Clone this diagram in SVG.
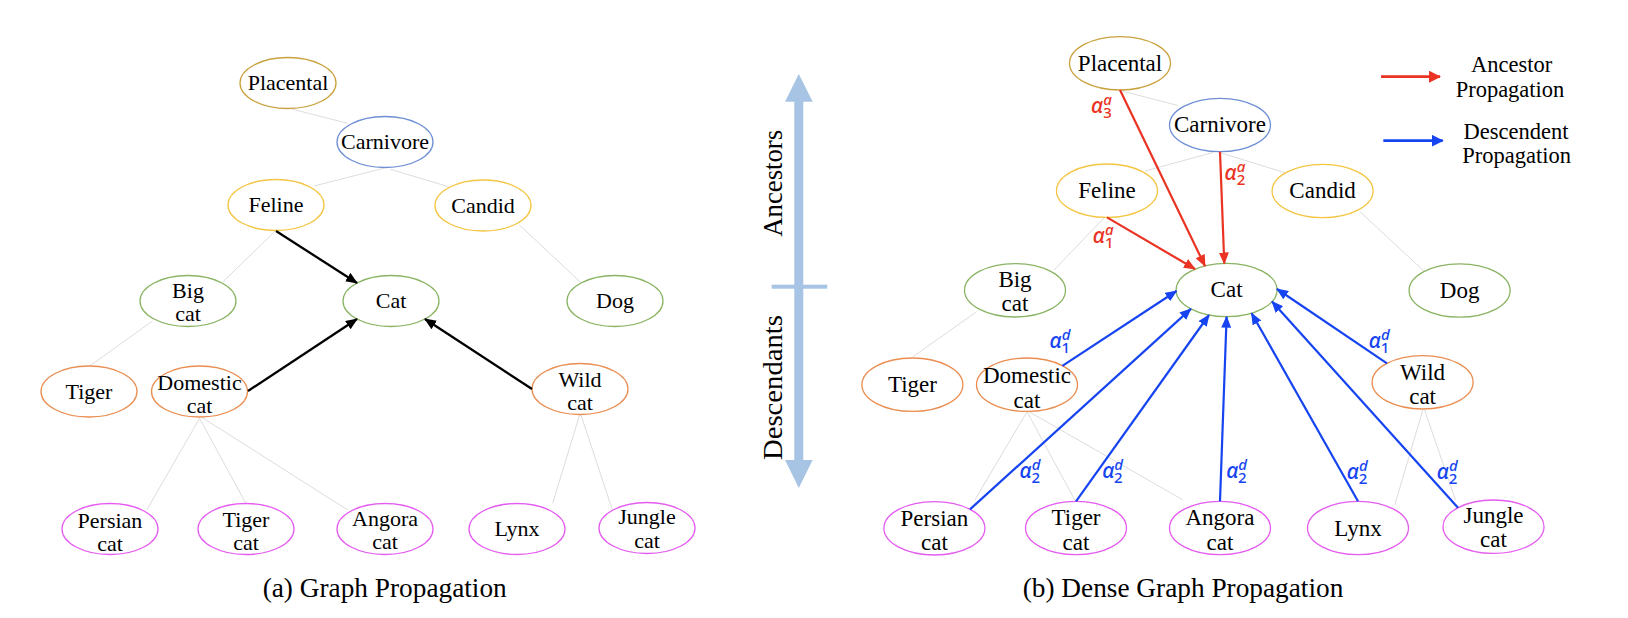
<svg xmlns="http://www.w3.org/2000/svg" width="1628" height="618" viewBox="0 0 1628 618">
<style>
.bg{fill:#fff}
.n{fill:#fff;stroke-width:1.3}
.pl{stroke:#c9a23e}.cv{stroke:#6f8fd4}.fe{stroke:#f4c542}.gr{stroke:#8ab463}.or{stroke:#ea8d50}.mg{stroke:#e45cf0}
.t{font-family:"Liberation Serif",serif;font-size:22px;text-anchor:middle;fill:#000}
.tb{font-family:"Liberation Serif",serif;font-size:23px;text-anchor:middle;fill:#000}
.cap{font-family:"Liberation Serif",serif;font-size:27.3px;text-anchor:middle;fill:#000}
.leg{font-family:"Liberation Serif",serif;font-size:22.5px;text-anchor:middle;fill:#000}
.side{font-family:"Liberation Serif",serif;font-size:27px;text-anchor:middle;fill:#000}
.g{stroke:#d8d8d8;stroke-width:0.9;fill:none}
.ak{stroke:#000;stroke-width:2.3;fill:none;marker-end:url(#mk)}
.ar{stroke:#ea3323;stroke-width:2.2;fill:none;marker-end:url(#mr)}
.ab{stroke:#1644f0;stroke-width:2.2;fill:none;marker-end:url(#mb)}
.al{font-family:"Noto Sans",sans-serif;font-size:21px;font-style:italic;font-weight:500}
.sp{font-size:15px;font-style:italic}
.sb{font-size:15px;font-style:normal}
.red{fill:#ea3323}.blue{fill:#1644f0}
</style>
<defs>
<marker id="mk" markerUnits="userSpaceOnUse" markerWidth="14" markerHeight="12" refX="11" refY="5" orient="auto"><path d="M0,0 L12,5 L0,10 z" fill="#000"/></marker>
<marker id="mr" markerUnits="userSpaceOnUse" markerWidth="14" markerHeight="12" refX="11" refY="5" orient="auto"><path d="M0,0 L12,5 L0,10 z" fill="#ea3323"/></marker>
<marker id="mb" markerUnits="userSpaceOnUse" markerWidth="14" markerHeight="12" refX="11" refY="5" orient="auto"><path d="M0,0 L12,5 L0,10 z" fill="#1644f0"/></marker>
<marker id="mlr" markerUnits="userSpaceOnUse" markerWidth="14" markerHeight="14" refX="11" refY="6" orient="auto"><path d="M0,0 L12,6 L0,12 z" fill="#ea3323"/></marker>
<marker id="mlb" markerUnits="userSpaceOnUse" markerWidth="14" markerHeight="14" refX="11" refY="6" orient="auto"><path d="M0,0 L12,6 L0,12 z" fill="#1644f0"/></marker>
</defs>
<rect class="bg" x="0" y="0" width="1628" height="618"/>

<g id="connectors">
  <path class="g" d="M291.6,109 L347.7,123.3"/>
  <path class="g" d="M383.6,168.3 L314,186"/>
  <path class="g" d="M390.3,169.3 L448.6,186.7"/>
  <path class="g" d="M274.6,231.7 L223,281.7"/>
  <path class="g" d="M519.5,225 L581,282.7"/>
  <path class="g" d="M152.5,321 L89.7,366"/>
  <path class="g" d="M199.6,418.3 L146.7,510"/>
  <path class="g" d="M199.6,418.3 L245.8,503.3"/>
  <path class="g" d="M201.9,417.3 L347.7,510"/>
  <path class="g" d="M579.6,415 L552.7,503.3"/>
  <path class="g" d="M581,415 L612.4,510"/>
  <path class="g" d="M1122,91 L1178,105.5"/>
  <path class="g" d="M1213,152.5 L1145,171"/>
  <path class="g" d="M1218,152 L1286,173"/>
  <path class="g" d="M1104,218 L1054,270"/>
  <path class="g" d="M1360,211.7 L1424.6,271.7"/>
  <path class="g" d="M976.6,311.7 L913,356.7"/>
  <path class="g" d="M1027,411.7 L974.8,500"/>
  <path class="g" d="M1027,411.7 L1074.8,500"/>
  <path class="g" d="M1029,411.7 L1183,500"/>
  <path class="g" d="M1422.8,410 L1394.8,505"/>
  <path class="g" d="M1424.6,410 L1455.5,500"/>
</g>

<g id="a-placental"><ellipse class="n pl" cx="288" cy="83" rx="48" ry="25.5"/><text class="t" x="288" y="90">Placental</text></g>
<g id="a-carnivore"><ellipse class="n cv" cx="385" cy="142" rx="48" ry="25.5"/><text class="t" x="385" y="149">Carnivore</text></g>
<g id="a-feline"><ellipse class="n fe" cx="276" cy="205" rx="48" ry="25.5"/><text class="t" x="276" y="212">Feline</text></g>
<g id="a-candid"><ellipse class="n fe" cx="483" cy="205.5" rx="48" ry="25.5"/><text class="t" x="483" y="212.5">Candid</text></g>
<g id="a-bigcat"><ellipse class="n gr" cx="188" cy="301" rx="48" ry="25.5"/><text class="t" x="188" y="298">Big</text><text class="t" x="188" y="321">cat</text></g>
<g id="a-cat"><ellipse class="n gr" cx="391" cy="301" rx="48" ry="25.5"/><text class="t" x="391" y="307.5">Cat</text></g>
<g id="a-dog"><ellipse class="n gr" cx="615" cy="301" rx="48" ry="25.5"/><text class="t" x="615" y="307.5">Dog</text></g>
<g id="a-tiger"><ellipse class="n or" cx="89" cy="391.5" rx="48" ry="25.5"/><text class="t" x="89" y="398.5">Tiger</text></g>
<g id="a-domestic"><ellipse class="n or" cx="199.5" cy="391.5" rx="48" ry="25.5"/><text class="t" x="199.5" y="390">Domestic</text><text class="t" x="199.5" y="413">cat</text></g>
<g id="a-wild"><ellipse class="n or" cx="580" cy="389" rx="48" ry="25.5"/><text class="t" x="580" y="387">Wild</text><text class="t" x="580" y="410">cat</text></g>
<g id="a-persian"><ellipse class="n mg" cx="110" cy="529" rx="48" ry="25.5"/><text class="t" x="110" y="527.5">Persian</text><text class="t" x="110" y="550.5">cat</text></g>
<g id="a-tigercat"><ellipse class="n mg" cx="246" cy="529" rx="48" ry="25.5"/><text class="t" x="246" y="527">Tiger</text><text class="t" x="246" y="550">cat</text></g>
<g id="a-angora"><ellipse class="n mg" cx="385" cy="529" rx="48" ry="25.5"/><text class="t" x="385" y="526">Angora</text><text class="t" x="385" y="549">cat</text></g>
<g id="a-lynx"><ellipse class="n mg" cx="517" cy="529" rx="48" ry="25.5"/><text class="t" x="517" y="536">Lynx</text></g>
<g id="a-jungle"><ellipse class="n mg" cx="647" cy="528" rx="48" ry="25.5"/><text class="t" x="647" y="524">Jungle</text><text class="t" x="647" y="547.5">cat</text></g>

<g id="b-placental"><ellipse class="n pl" cx="1120" cy="63.3" rx="50.5" ry="26.7"/><text class="tb" x="1120" y="70.5">Placental</text></g>
<g id="b-carnivore"><ellipse class="n cv" cx="1220" cy="125" rx="50.5" ry="26.7"/><text class="tb" x="1220" y="132.2">Carnivore</text></g>
<g id="b-feline"><ellipse class="n fe" cx="1107" cy="190.7" rx="50.5" ry="26.7"/><text class="tb" x="1107" y="198">Feline</text></g>
<g id="b-candid"><ellipse class="n fe" cx="1322.6" cy="191" rx="50.5" ry="26.7"/><text class="tb" x="1322.6" y="198.3">Candid</text></g>
<g id="b-bigcat"><ellipse class="n gr" cx="1015" cy="290.3" rx="50.5" ry="26.7"/><text class="tb" x="1015" y="287">Big</text><text class="tb" x="1015" y="311">cat</text></g>
<g id="b-cat"><ellipse class="n gr" cx="1226.6" cy="290" rx="50.5" ry="26.7"/><text class="tb" x="1226.6" y="297">Cat</text></g>
<g id="b-dog"><ellipse class="n gr" cx="1459.6" cy="290.5" rx="50.5" ry="26.7"/><text class="tb" x="1459.6" y="297.5">Dog</text></g>
<g id="b-tiger"><ellipse class="n or" cx="912.4" cy="384.7" rx="50.5" ry="26.7"/><text class="tb" x="912.4" y="392">Tiger</text></g>
<g id="b-domestic"><ellipse class="n or" cx="1027" cy="384.7" rx="50.5" ry="26.7"/><text class="tb" x="1027" y="383">Domestic</text><text class="tb" x="1027" y="407.5">cat</text></g>
<g id="b-wild"><ellipse class="n or" cx="1422.6" cy="382.3" rx="50.5" ry="26.7"/><text class="tb" x="1422.6" y="379.5">Wild</text><text class="tb" x="1422.6" y="404">cat</text></g>
<g id="b-persian"><ellipse class="n mg" cx="934.4" cy="528.3" rx="50.5" ry="26.7"/><text class="tb" x="934.4" y="525.5">Persian</text><text class="tb" x="934.4" y="550">cat</text></g>
<g id="b-tigercat"><ellipse class="n mg" cx="1076" cy="528" rx="50.5" ry="26.7"/><text class="tb" x="1076" y="525">Tiger</text><text class="tb" x="1076" y="549.5">cat</text></g>
<g id="b-angora"><ellipse class="n mg" cx="1220" cy="528" rx="50.5" ry="26.7"/><text class="tb" x="1220" y="525">Angora</text><text class="tb" x="1220" y="549.5">cat</text></g>
<g id="b-lynx"><ellipse class="n mg" cx="1358" cy="528" rx="50.5" ry="26.7"/><text class="tb" x="1358" y="535.5">Lynx</text></g>
<g id="b-jungle"><ellipse class="n mg" cx="1493.5" cy="526.7" rx="50.5" ry="26.7"/><text class="tb" x="1493.5" y="522.5">Jungle</text><text class="tb" x="1493.5" y="547">cat</text></g>

<g id="arrows">
  <path class="ak" d="M276,231 L357,283"/>
  <path class="ak" d="M248,391 L357,319"/>
  <path class="ak" d="M532,389 L425,319"/>
  <path class="ar" d="M1120,90 L1205,266"/>
  <path class="ar" d="M1220,151.7 L1224.3,263.5"/>
  <path class="ar" d="M1107,217.4 L1195,269"/>
  <path class="ab" d="M1062.4,365.8 L1176.5,291"/>
  <path class="ab" d="M1387,363.4 L1277,289"/>
  <path class="ab" d="M970,509.4 L1190.9,308.9"/>
  <path class="ab" d="M1076,501.3 L1209,315"/>
  <path class="ab" d="M1220,501.3 L1226.6,316.7"/>
  <path class="ab" d="M1358,501.3 L1251.6,313.3"/>
  <path class="ab" d="M1458,507.8 L1272,301.5"/>
</g>

<g id="weights">
  <text class="al red" x="1091" y="113.3">α<tspan class="sp" dy="-8.5">a</tspan><tspan class="sb" dx="-8.5" dy="13.5">3</tspan></text>
  <text class="al red" x="1224.5" y="180">α<tspan class="sp" dy="-8.5">a</tspan><tspan class="sb" dx="-8.5" dy="13.5">2</tspan></text>
  <text class="al red" x="1092.8" y="243.3">α<tspan class="sp" dy="-8.5">a</tspan><tspan class="sb" dx="-8.5" dy="13.5">1</tspan></text>
  <text class="al blue" x="1049.5" y="348.3">α<tspan class="sp" dy="-8.5">d</tspan><tspan class="sb" dx="-9" dy="13.5">1</tspan></text>
  <text class="al blue" x="1368.8" y="348.3">α<tspan class="sp" dy="-8.5">d</tspan><tspan class="sb" dx="-9" dy="13.5">1</tspan></text>
  <text class="al blue" x="1019.5" y="478.3">α<tspan class="sp" dy="-8.5">d</tspan><tspan class="sb" dx="-9" dy="13.5">2</tspan></text>
  <text class="al blue" x="1102.2" y="478.3">α<tspan class="sp" dy="-8.5">d</tspan><tspan class="sb" dx="-9" dy="13.5">2</tspan></text>
  <text class="al blue" x="1226.2" y="478.3">α<tspan class="sp" dy="-8.5">d</tspan><tspan class="sb" dx="-9" dy="13.5">2</tspan></text>
  <text class="al blue" x="1346.8" y="479">α<tspan class="sp" dy="-8.5">d</tspan><tspan class="sb" dx="-9" dy="13.5">2</tspan></text>
  <text class="al blue" x="1436.8" y="479">α<tspan class="sp" dy="-8.5">d</tspan><tspan class="sb" dx="-9" dy="13.5">2</tspan></text>
</g>

<g id="legend">
  <path d="M1381,76.7 L1440,76.7" stroke="#ea3323" stroke-width="2.7" fill="none" marker-end="url(#mlr)"/>
  <text class="leg" x="1511.7" y="71.7">Ancestor</text>
  <text class="leg" x="1510" y="96.7">Propagation</text>
  <path d="M1383.3,140.7 L1442.7,140.7" stroke="#1644f0" stroke-width="2.7" fill="none" marker-end="url(#mlb)"/>
  <text class="leg" x="1516" y="139.3">Descendent</text>
  <text class="leg" x="1516.7" y="163.3">Propagation</text>
</g>

<g id="hierarchy-axis">
  <rect x="794.3" y="100" width="9" height="361" fill="#a7c4e4"/>
  <path d="M798.8,74 L812.7,101.7 L785,101.7 z" fill="#a7c4e4"/>
  <path d="M798.8,488 L812.7,460 L785,460 z" fill="#a7c4e4"/>
  <rect x="771.7" y="284.7" width="55.6" height="4" fill="#a7c4e4"/>
  <text class="side" transform="translate(781.5,183.3) rotate(-90)" x="0" y="0" textLength="107" lengthAdjust="spacingAndGlyphs">Ancestors</text>
  <text class="side" transform="translate(781.5,387.5) rotate(-90)" x="0" y="0" textLength="145" lengthAdjust="spacingAndGlyphs">Descendants</text>
</g>

<text class="cap" x="384.7" y="596.7">(a) Graph Propagation</text>
<text class="cap" x="1183" y="596.7">(b) Dense Graph Propagation</text>
</svg>
